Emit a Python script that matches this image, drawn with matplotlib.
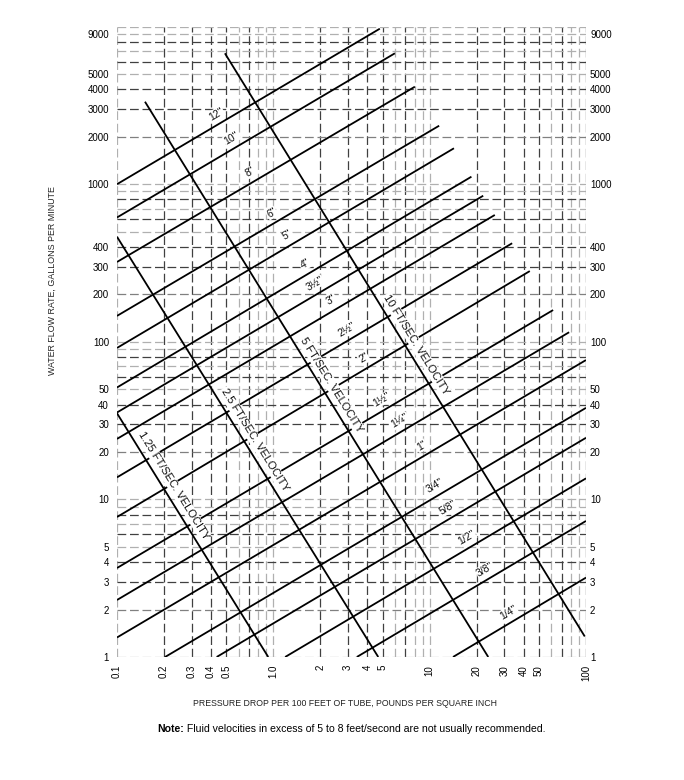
import numpy as np
import matplotlib
matplotlib.use("Agg")
import matplotlib.pyplot as plt
from matplotlib.ticker import NullLocator, NullFormatter

plt.rcParams['font.family'] = ['Liberation Sans', 'DejaVu Sans']

# ---------------- data ----------------
pipe_sizes = ['12"', '10"', '8"', '6"', '5"', '4"', '3½"', '3"', '2½"', '2"',
              '1½"', '1¼"', '1"', '3/4"', '5/8"', '1/2"', '3/8"', '1/4"']
pipe_dp_start = [0.1, 0.1, 0.1, 0.1, 0.1, 0.1, 0.1, 0.1, 0.1, 0.1,
                 0.1, 0.1, 0.1, 0.203, 0.434, 1.19, 3.42, 14.1]
pipe_gpm_start = [1000, 615, 321, 146, 91.4, 51.3, 35.6, 24.2, 13.8, 7.73,
                  3.67, 2.30, 1.33, 1, 1, 1, 1, 1]
pipe_dp_end = [4.80, 5.99, 8.04, 11.5, 14.3, 18.5, 22.0, 26.1, 33.7, 43.7,
               61.6, 78.0, 100, 100, 100, 100, 100, 100]
pipe_gpm_end = [9700, 6770, 4155, 2350, 1690, 1116, 845, 638, 422, 281,
                159, 115, 76.6, 38.1, 24.6, 13.6, 7.3, 3.19]

velocities = ['1.25', '2.5', '5', '10']
vel_dp_start = [0.1, 0.1, 0.151, 0.49]
vel_gpm_start = [35.2, 464, 3338, 6770]
vel_dp_end = [0.928, 4.69, 23.7, 98.2]
vel_gpm_end = [1, 1, 1, 1.35]

x_ticks = [0.1, 0.2, 0.3, 0.4, 0.5, 1, 2, 3, 4, 5, 10, 20, 30, 40, 50, 100]
x_tick_labels = ['0.1', '0.2', '0.3', '0.4', '0.5', '1.0', '2', '3', '4', '5',
                 '10', '20', '30', '40', '50', '100']
y_ticks = [1, 2, 3, 4, 5, 10, 20, 30, 40, 50, 100, 200, 300, 400,
           1000, 2000, 3000, 4000, 5000, 9000]
y_tick_labels = [str(v) for v in y_ticks]

# label anchor positions (layout)
pipe_label_dp = [0.43, 0.541, 0.709, 0.975, 1.234, 1.59, 1.845, 2.36, 2.94, 3.79,
                 4.93, 6.45, 8.87, 10.8, 13.1, 17.2, 22.5, 31.8]
vel_label_gpm = [12.3, 23.8, 53.3, 95.5]

# ---------------- figure ----------------
W, H = 684, 780
fig = plt.figure(figsize=(W / 100, H / 100), dpi=100)
ax = fig.add_axes([117 / W, 1 - 657 / H, 469 / W, (657 - 26.6) / H])
ax.set_xscale('log')
ax.set_yscale('log')
ax.set_xlim(0.1, 100)
ax.set_ylim(1, 10000)
for s in ax.spines.values():
    s.set_visible(False)

dash = (0, (7, 3))
def gcolor(k, dark):
    if k in dark:
        return '#404040'
    if k == 2:
        return '#808080'
    return '#b0b0b0'

for d in (0.1, 1, 10):
    for k in range(1, 10):
        ax.axvline(k * d, color=gcolor(k, {2, 3, 4, 5, 7}), lw=0.9, ls=dash, zorder=1)
ax.axvline(100, color='#404040', lw=0.9, ls=dash, zorder=1)
for d in (1, 10, 100, 1000):
    for k in range(1, 10):
        ax.axhline(k * d, color=gcolor(k, {3, 4, 6, 8}), lw=0.9, ls=dash, zorder=1)
ax.axhline(10000, color='#b0b0b0', lw=0.9, ls=dash, zorder=1)

def point_on(x0, y0, x1, y1, x=None, y=None):
    lx0, ly0, lx1, ly1 = np.log10([x0, y0, x1, y1])
    if x is not None:
        lx = np.log10(x)
        ly = ly0 + (lx - lx0) * (ly1 - ly0) / (lx1 - lx0)
    else:
        ly = np.log10(y)
        lx = lx0 + (ly - ly0) * (lx1 - lx0) / (ly1 - ly0)
    return 10 ** lx, 10 ** ly

def angle_of(x0, y0, x1, y1):
    p0 = ax.transData.transform((x0, y0))
    p1 = ax.transData.transform((x1, y1))
    return np.degrees(np.arctan2(p1[1] - p0[1], p1[0] - p0[0]))

# pipe lines
for i, name in enumerate(pipe_sizes):
    x0, y0, x1, y1 = pipe_dp_start[i], pipe_gpm_start[i], pipe_dp_end[i], pipe_gpm_end[i]
    ax.plot([x0, x1], [y0, y1], color='black', lw=1.3, zorder=3,
            solid_capstyle='butt')
    px, py = point_on(x0, y0, x1, y1, x=pipe_label_dp[i])
    ax.annotate(name, xy=(px, py), xytext=(0, 8.3), textcoords='offset points',
                rotation=angle_of(x0, y0, x1, y1), rotation_mode='anchor',
                ha='center', va='center', fontsize=7.5, color='#111111',
                bbox=dict(boxstyle='square,pad=0.05', fc='white', ec='none'),
                zorder=4)

# velocity lines
for i, v in enumerate(velocities):
    x0, y0, x1, y1 = vel_dp_start[i], vel_gpm_start[i], vel_dp_end[i], vel_gpm_end[i]
    ax.plot([x0, x1], [y0, y1], color='black', lw=1.3, zorder=6,
            solid_capstyle='butt')
    px, py = point_on(x0, y0, x1, y1, y=vel_label_gpm[i])
    ax.annotate(f'{v} FT/SEC. VELOCITY', xy=(px, py), xytext=(8.3, 0),
                textcoords='offset points',
                rotation=angle_of(x0, y0, x1, y1), rotation_mode='anchor',
                ha='center', va='center', fontsize=8, color='#111111',
                bbox=dict(boxstyle='square,pad=0.1', fc='white', ec='none'),
                zorder=5)

# ticks
ax.xaxis.set_minor_locator(NullLocator())
ax.xaxis.set_minor_formatter(NullFormatter())
ax.yaxis.set_minor_locator(NullLocator())
ax.yaxis.set_minor_formatter(NullFormatter())
ax.set_xticks(x_ticks)
ax.set_xticklabels(x_tick_labels, rotation=90)
ax.set_yticks(y_ticks)
ax.set_yticklabels(y_tick_labels)
ax.tick_params(axis='x', length=0, pad=5.8, labelsize=7)
ax.tick_params(axis='y', length=0, pad=5.8, labelsize=7)

ax2 = ax.twinx()
ax2.set_yscale('log')
ax2.set_ylim(1, 10000)
for s in ax2.spines.values():
    s.set_visible(False)
ax2.yaxis.set_minor_locator(NullLocator())
ax2.yaxis.set_minor_formatter(NullFormatter())
ax2.set_yticks(y_ticks)
ax2.set_yticklabels(y_tick_labels)
ax2.tick_params(axis='y', length=0, pad=2.9, labelsize=7)

# titles
fig.text(52 / W, 1 - 281 / H, 'WATER FLOW RATE, GALLONS PER MINUTE',
         rotation=90, ha='center', va='center', fontsize=6.4, color='#222222')
fig.text(345 / W, 1 - 704 / H,
         'PRESSURE DROP PER 100 FEET OF TUBE, POUNDS PER SQUARE INCH',
         ha='center', va='center', fontsize=6.3, color='#222222')
t1 = fig.text(157 / W, 1 - 729 / H, 'Note:', ha='left', va='center',
              fontsize=7.55, fontweight='bold')
ax.annotate(' Fluid velocities in excess of 5 to 8 feet/second are not usually recommended.',
            xy=(1, 0.5), xycoords=t1, ha='left', va='center', fontsize=7.55,
            annotation_clip=False)

fig.savefig('out.png', dpi=100)
